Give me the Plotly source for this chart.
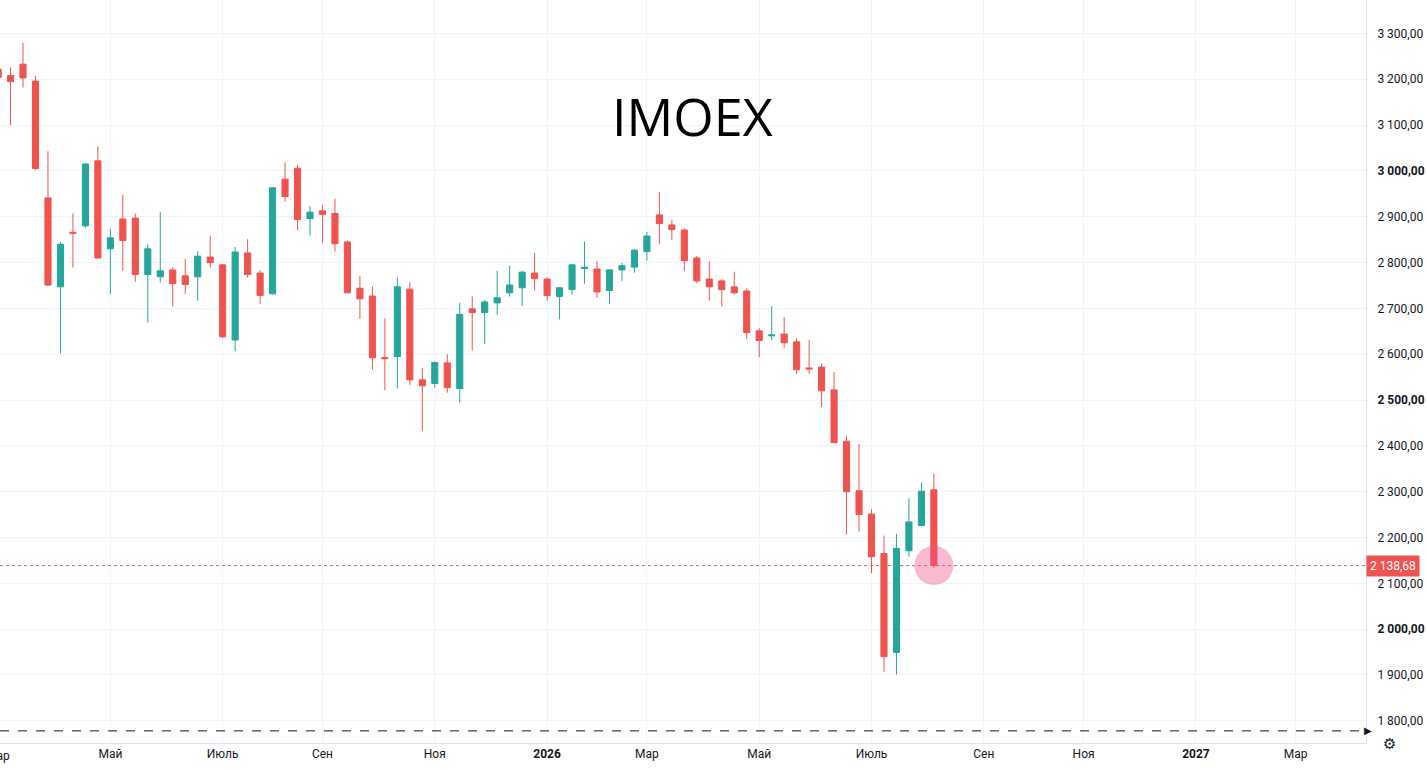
import pandas as pd
import plotly.graph_objects as go

# ---- data (weekly IMOEX candles) ----
first_week = "2025-03-03"
opens = [3222, 3208, 3233, 3196, 2941, 2747, 2866, 2880, 3022, 2830,
         2895, 2897, 2774, 2769, 2784, 2771, 2769, 2812, 2795, 2631,
         2821, 2777, 2732, 2982, 3006, 2896, 2913, 2907, 2845, 2744,
         2727, 2593, 2595, 2742, 2544, 2536, 2581, 2525, 2699, 2691,
         2712, 2734, 2745, 2777, 2764, 2726, 2741, 2787, 2786, 2739,
         2784, 2790, 2824, 2904, 2882, 2871, 2810, 2764, 2760, 2747,
         2738, 2651, 2640, 2644, 2627, 2570, 2572, 2522, 2410, 2302,
         2251, 2165, 1949, 2171, 2226, 2304]
highs = [3230, 3226, 3280, 3207, 3043, 2845, 2907, 3017, 3053, 2873,
         2948, 2907, 2840, 2910, 2790, 2808, 2825, 2858, 2797, 2834,
         2851, 2784, 2964, 3019, 3013, 2923, 2926, 2939, 2848, 2771,
         2748, 2678, 2768, 2757, 2570, 2584, 2600, 2712, 2726, 2718,
         2782, 2793, 2782, 2821, 2768, 2746, 2797, 2846, 2803, 2785,
         2799, 2829, 2867, 2954, 2893, 2875, 2814, 2803, 2764, 2780,
         2744, 2657, 2705, 2681, 2635, 2631, 2579, 2561, 2422, 2404,
         2262, 2204, 2208, 2285, 2320, 2339]
lows = [3198, 3100, 3182, 3002, 2749, 2602, 2789, 2876, 2808, 2731,
        2782, 2758, 2669, 2756, 2704, 2732, 2717, 2789, 2635, 2606,
        2767, 2710, 2730, 2933, 2870, 2859, 2843, 2824, 2733, 2677,
        2566, 2522, 2525, 2533, 2433, 2527, 2516, 2494, 2608, 2622,
        2686, 2726, 2705, 2739, 2717, 2676, 2730, 2754, 2723, 2710,
        2760, 2778, 2804, 2841, 2849, 2782, 2755, 2717, 2704, 2730,
        2633, 2593, 2630, 2614, 2557, 2557, 2485, 2406, 2206, 2213,
        2122, 1907, 1901, 2158, 2225, 2134]
closes = [3204, 3195, 3203, 3005, 2751, 2840, 2864, 3015, 2810, 2854,
          2848, 2774, 2830, 2782, 2754, 2752, 2814, 2800, 2638, 2823,
          2774, 2728, 2963, 2944, 2894, 2910, 2905, 2841, 2734, 2721,
          2592, 2590, 2747, 2544, 2531, 2582, 2527, 2687, 2691, 2714,
          2723, 2751, 2779, 2765, 2728, 2745, 2795, 2790, 2736, 2784,
          2793, 2827, 2858, 2885, 2872, 2804, 2760, 2747, 2741, 2734,
          2647, 2630, 2642, 2625, 2566, 2568, 2520, 2407, 2300, 2250,
          2158, 1940, 2176, 2234, 2301, 2138.68]

tick_dates = ["2025-05-05", "2025-07-07", "2025-09-01", "2025-11-03", "2026-01-05",
              "2026-03-02", "2026-05-04", "2026-07-06", "2026-09-07", "2026-11-02",
              "2027-01-04", "2027-03-01"]
tick_text = ["Май", "Июль", "Сен", "Ноя", "<b>2026</b>", "Мар", "Май", "Июль",
             "Сен", "Ноя", "<b>2027</b>", "Мар"]
cut_tick_date = "2025-03-03"
cut_tick_text = "Мар"

price_ticks = [1800, 1900, 2000, 2100, 2200, 2300, 2400, 2500, 2600, 2700,
               2800, 2900, 3000, 3100, 3200, 3300]
bold_ticks = [2000, 2500, 3000]
marker_level = 1778
title = "IMOEX"

x_range = [pd.Timestamp("2025-03-04 02:00"), pd.Timestamp("2027-04-09 10:00")]
y_range = [1751.5, 3373]

# ---- build ----
dates = pd.date_range(first_week, periods=len(opens), freq="W-MON")

UP = "#26a69a"
DOWN = "#ef5350"
TXT = "#131722"
GRID = "#f0f3fa"
FONT = "Roboto"


def fmt(v):
    s = f"{v:,.2f}".replace(",", " ").replace(".", ",")
    return s


fig = go.Figure()
fig.add_trace(go.Candlestick(
    x=dates, open=opens, high=highs, low=lows, close=closes,
    increasing=dict(line=dict(color=UP, width=1), fillcolor=UP),
    decreasing=dict(line=dict(color=DOWN, width=1), fillcolor=DOWN),
    whiskerwidth=0, showlegend=False, hoverinfo="skip"))

fig.add_trace(go.Scatter(
    x=[dates[-1]], y=[closes[-1]], mode="markers",
    marker=dict(size=39, color="rgba(240,80,140,0.40)", line=dict(width=0)),
    showlegend=False, hoverinfo="skip"))

ytext = [("<b>%s</b>" % fmt(v)) if v in bold_ticks else fmt(v) for v in price_ticks]

fig.update_layout(
    width=1427, height=770,
    margin=dict(l=0, r=61, t=0, b=27),
    paper_bgcolor="white", plot_bgcolor="white",
    font=dict(family=FONT, size=12, color=TXT),
    xaxis=dict(type="date", range=x_range, tickmode="array",
               tickvals=tick_dates, ticktext=tick_text,
               showgrid=True, gridcolor=GRID, gridwidth=1,
               zeroline=False, ticks="", showline=True, linecolor="#e0e3eb",
               rangeslider=dict(visible=False), fixedrange=True,
               tickfont=dict(family=FONT, size=12, color=TXT)),
    yaxis=dict(side="right", range=y_range, tickmode="array",
               tickvals=price_ticks, ticktext=ytext,
               showgrid=True, gridcolor=GRID, gridwidth=1, zeroline=False,
               ticks="", showline=True, linecolor="#e0e3eb",
               ticklabelstandoff=8,
               tickfont=dict(family=FONT, size=12, color=TXT)),
)

# last price dotted line + label
fig.add_shape(type="line", xref="paper", x0=0, x1=1, yref="y",
              y0=closes[-1], y1=closes[-1],
              line=dict(color="#d9606a", width=1, dash="dot"))
fig.add_annotation(xref="paper", x=1, xanchor="left", yref="y", y=closes[-1],
                   text=fmt(closes[-1]), showarrow=False,
                   bgcolor=DOWN, borderpad=3,
                   font=dict(family=FONT, size=12, color="white"))

# dashed bottom line with arrow
fig.add_shape(type="line", xref="paper", x0=0, x1=1, yref="y",
              y0=marker_level, y1=marker_level,
              line=dict(color="#131722", width=1, dash="dash"))
fig.add_annotation(xref="paper", x=1, xanchor="center", yref="y", y=marker_level,
                   text="▶", showarrow=False, xshift=2,
                   font=dict(family="DejaVu Sans", size=10, color="#131722"))

# partially visible first month label
x0, x1 = x_range
frac = (pd.Timestamp(cut_tick_date) - x0) / (x1 - x0)
fig.add_annotation(xref="paper", x=frac, xanchor="center", yref="paper", y=0,
                   yanchor="top", yshift=-4, text=cut_tick_text, showarrow=False,
                   font=dict(family=FONT, size=12, color=TXT))

# settings icon
fig.add_annotation(xref="paper", x=1, xshift=32, yref="paper", y=0, yshift=-12,
                   text="⚙", showarrow=False,
                   font=dict(family="DejaVu Sans", size=15, color=TXT))

# title
fig.add_annotation(xref="paper", x=0.507, yref="paper", y=0.844, yanchor="middle",
                   text=title, showarrow=False,
                   font=dict(family="Open Sans", size=52, color="black"))

fig.write_html("out.html", config={"displayModeBar": False},
               post_script="document.body.style.margin='0';document.body.style.padding='0';")
